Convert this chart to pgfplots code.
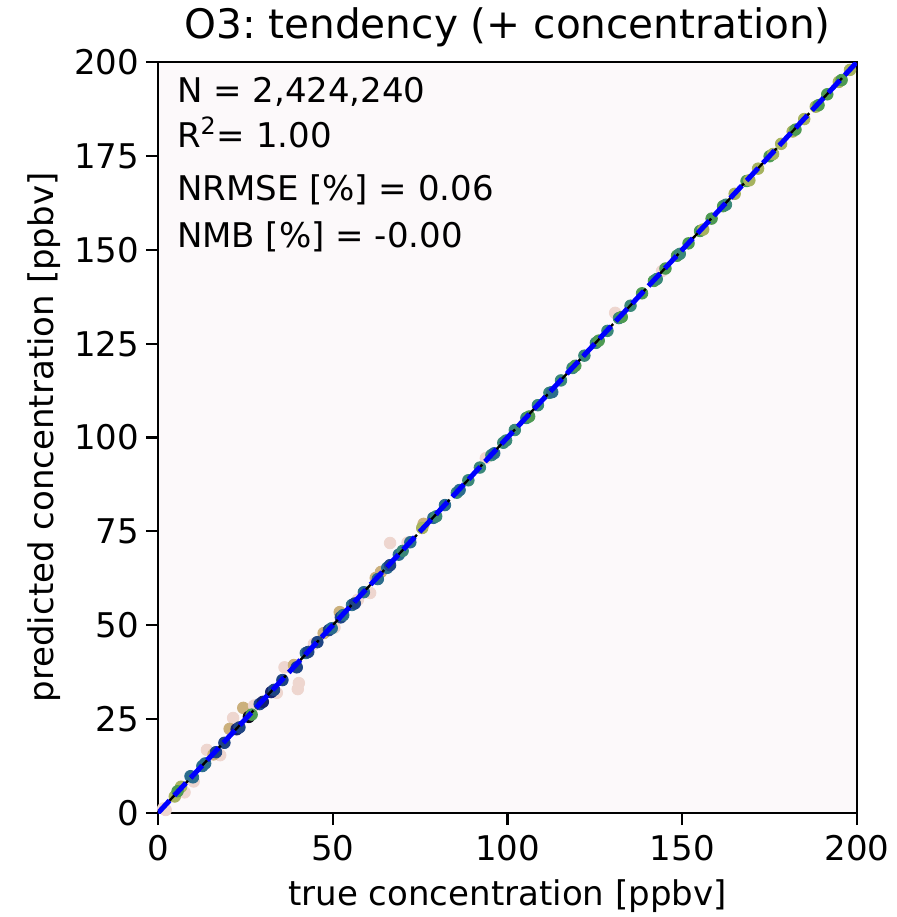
\documentclass[border=0pt]{standalone}
\usepackage{pgfplots}
\pgfplotsset{compat=1.18}
\usepackage{pgfplotstable}
\usepackage{fontspec}
\setmainfont{DejaVu Sans}
\frenchspacing
\definecolor{bgpink}{HTML}{FCF9FA}
\definecolor{cA}{HTML}{A6B35E}
\definecolor{cB}{HTML}{4E9A52}
\definecolor{cC}{HTML}{3A8878}
\definecolor{cD}{HTML}{2B6D8C}
\definecolor{cE}{HTML}{1E4483}
\definecolor{cF}{HTML}{14236E}
\definecolor{cG}{HTML}{CBB07C}
\definecolor{cH}{HTML}{EED6CF}
\definecolor{cK}{HTML}{0A0A1A}

\pgfplotstableread{
x y c
2.2 0.8 H
7.6 5.5 H
10.2 8.4 H
14.0 16.8 H
17.8 15.4 H
21.5 25.3 H
20.5 22.4 G
24.4 28.0 G
27.5 28.6 H
34.0 32.0 H
36.2 38.8 H
40.3 34.6 H
40.0 33.0 H
44.6 45.0 H
47.4 47.9 G
50.5 49.4 H
52.0 53.5 G
57.2 56.8 H
60.7 58.6 H
63.8 64.2 G
66.4 71.9 H
71.4 72.0 H
76.0 77.0 G
93.8 94.5 H
130.8 133.2 H
144.2 144.3 H
}\offpts

\pgfplotstableread{
x y c
1.5 1.2 H
4.8 4.4 A
6.6 7.0 A
9.3 9.8 D
12.7 12.5 D
15.9 15.6 G
19.0 18.7 E
22.5 22.3 F
26.0 25.6 K
29.1 29.0 E
32.4 32.2 F
35.6 35.4 E
38.9 39.4 G
42.3 42.6 D
45.6 45.5 E
48.9 48.7 E
52.3 52.1 E
55.5 55.4 D
58.9 58.8 D
62.3 62.6 G
65.6 65.3 D
68.9 68.8 D
72.2 72.1 D
75.6 75.9 A
78.8 78.6 D
82.1 82.0 D
85.5 85.3 C
88.8 88.6 C
92.1 92.0 C
95.4 95.3 C
98.8 98.6 C
102.1 102.0 C
105.4 105.2 C
108.7 108.6 C
112.0 111.9 C
115.3 115.2 C
118.6 118.5 C
122.0 121.8 C
125.3 125.2 C
128.6 128.4 C
131.9 131.8 C
135.2 135.1 C
138.5 138.4 B
141.9 141.7 B
145.2 145.0 B
148.5 148.4 B
151.8 151.7 B
155.1 155.0 B
158.4 158.3 B
161.7 161.6 B
165.0 164.9 A
168.4 168.3 B
171.7 171.6 A
175.0 174.9 B
178.3 178.2 A
181.6 181.5 A
184.9 184.8 A
188.2 188.1 A
191.5 191.4 B
194.8 194.7 A
198.0 197.9 A
5.6 5.8 B
10.0 9.5 D
13.5 13.2 D
16.6 16.2 E
23.3 22.8 E
26.8 26.2 B
30.0 29.6 F
33.2 32.8 E
39.7 38.8 E
43.0 42.9 E
49.7 49.2 D
53.0 52.7 D
56.3 55.8 E
62.9 62.3 D
66.4 66.0 E
70.0 69.8 C
79.6 79.0 C
86.3 86.0 D
96.2 95.8 D
99.6 99.2 C
106.2 105.6 B
112.8 112.1 D
119.4 119.1 B
126.1 125.8 B
132.7 132.1 B
142.7 142.2 C
149.3 148.9 C
156.0 155.4 A
162.5 162.0 C
169.2 168.5 A
176.0 175.5 A
182.4 182.0 B
189.0 188.5 B
195.6 195.2 B
}\mainpts

\begin{document}
\begin{tikzpicture}
\useasboundingbox (-79pt,-52pt) rectangle (369pt,406.5pt);
\begin{axis}[
  scale only axis,
  width=349.5pt, height=375.5pt,
  at={(0pt,0pt)}, anchor=south west,
  xmin=0, xmax=200, ymin=0, ymax=200,
  clip mode=individual,
  xtick={0,50,100,150,200},
  ytick={0,25,50,75,100,125,150,175,200},
  xtick pos=bottom, ytick pos=left,
  tick align=outside,
  major tick length=6pt,
  every tick/.style={black, line width=1.1pt},
  axis line style={black, line width=1.1pt},
  axis background/.style={fill=bgpink},
  /pgf/number format/assume math mode=true,
  tick label style={font=\fontsize{17}{20}\selectfont},
  xticklabel style={yshift=-1.5pt},
  label style={font=\fontsize{17}{20}\selectfont},
  xlabel style={yshift=-2.5pt},
  title style={font=\fontsize{20.3}{24}\selectfont, yshift=-2pt},
  title={O3: tendency (+ concentration)},
  xlabel={true concentration [ppbv]},
  ylabel={predicted concentration [ppbv]},
  mark size=2.9pt,
  scatter/classes={
    A={mark=*,cA}, B={mark=*,cB}, C={mark=*,cC}, D={mark=*,cD},
    E={mark=*,cE}, F={mark=*,cF}, G={mark=*,cG}, H={mark=*,cH}, K={mark=*,cK}},
]
\addplot[scatter, only marks, scatter src=explicit symbolic] table[x=x, y=y, meta=c] {\offpts};
\addplot[scatter, only marks, scatter src=explicit symbolic] table[x=x, y=y, meta=c] {\mainpts};
\addplot[black, line width=1.2pt, dash pattern=on 6pt off 2pt] coordinates {(0,0) (200,200)};
\addplot[blue, line width=2.5pt, dash pattern=on 8.5pt off 3.5pt] coordinates {(0,0) (200,200)};
\node[anchor=base west, font=\fontsize{17}{20}\selectfont] at ([xshift=6pt,yshift=-20pt]rel axis cs:0,1) {N = 2,424,240};
\node[anchor=base west, font=\fontsize{17}{20}\selectfont] at ([xshift=6pt,yshift=-42.5pt]rel axis cs:0,1) {R\textsuperscript{2}= 1.00};
\node[anchor=base west, font=\fontsize{17}{20}\selectfont] at ([xshift=6pt,yshift=-69pt]rel axis cs:0,1) {NRMSE [\%] = 0.06};
\node[anchor=base west, font=\fontsize{17}{20}\selectfont] at ([xshift=6pt,yshift=-92.5pt]rel axis cs:0,1) {NMB [\%] = -0.00};
\end{axis}
\end{tikzpicture}
\end{document}
